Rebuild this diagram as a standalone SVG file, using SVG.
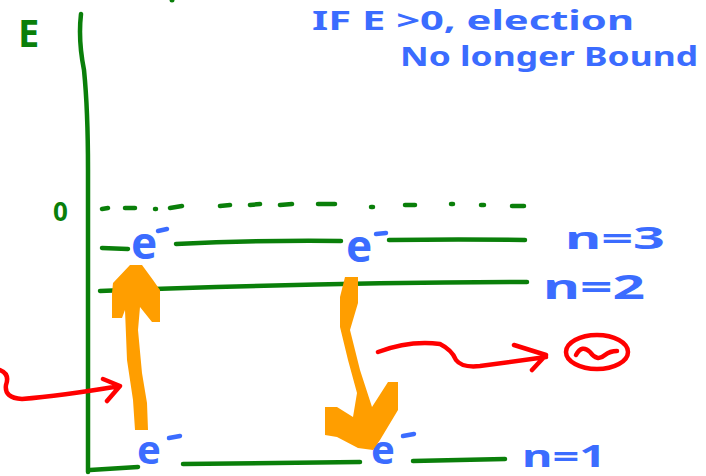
<svg xmlns="http://www.w3.org/2000/svg" width="706" height="476" viewBox="0 0 706 476">
<style>
.g{fill:none;stroke:#0a7f0a;stroke-width:4.5;stroke-linecap:round;stroke-linejoin:round}
.r{fill:none;stroke:#ff0000;stroke-width:4.5;stroke-linecap:round;stroke-linejoin:round}
.o{fill:#ff9e00;stroke:none}
.t{font-family:"Noto Sans",sans-serif;fill:#3b6cff;font-weight:bold}
.m{stroke:#3b6cff;stroke-width:4.5;stroke-linecap:round}
.tg{font-family:"Noto Sans",sans-serif;fill:#0a7f0a;font-weight:bold}
</style>
<rect width="706" height="476" fill="#ffffff"/>
<g id="axis">
<path class="g" d="M81,14 Q78,40 84,70 Q88,110 88,170 L88,472"/>
<circle cx="172" cy="0" r="2.5" fill="#0a7f0a"/>
<text class="tg" x="18" y="47" font-size="38">E</text>
<text class="tg" x="53" y="221" font-size="26">0</text>
</g>
<g id="level-zero">
<path class="g" d="M102,209 L108,208 M125,208 L135,208 M155,209 L156,209 M170,208 L182,206 M220,206 L230,205 M250,205 L260,204 M280,205 L292,204 M318,204 L335,204 M371,207 L373,207 M405,205 L415,205 M451,204 L453,204 M481,205 L484,205 M512,206 L524,206"/>
</g>
<g id="level-n3">
<path class="g" d="M102,248 L128,249 M176,244 Q260,240 341,241 M389,240 Q460,239 525,240"/>
<text class="t" x="565" y="249" font-size="30" textLength="100" lengthAdjust="spacingAndGlyphs">n=3</text>
</g>
<g id="level-n2">
<path class="g" d="M100,291 Q300,283 527,282"/>
<text class="t" x="543" y="299" font-size="34" textLength="102" lengthAdjust="spacingAndGlyphs">n=2</text>
</g>
<g id="level-n1">
<path class="g" d="M90,470 L138,467 M183,464 L360,462 M413,461 L505,459"/>
<text class="t" x="522" y="467" font-size="30" textLength="84" lengthAdjust="spacingAndGlyphs">n=1</text>
</g>
<g id="electrons">
<text class="t" x="131" y="259" font-size="44">e</text>
<path class="m" d="M158,231 L167,229"/>
<text class="t" x="346" y="262" font-size="44">e</text>
<path class="m" d="M376,234 L386,233"/>
<text class="t" x="137" y="464" font-size="40">e</text>
<path class="m" d="M169,438 L180,436"/>
<text class="t" x="371" y="464" font-size="40">e</text>
<path class="m" d="M403,436 L414,434"/>
</g>
<g id="connectors">
<path class="o" d="M130,265 L142,265 L153,280 L160,290 L160,322 L152,322 L140,307 L138,330 L142,373 L147,403 L148,430 L135,430 L133,400 L127,360 L125,310 L122,318 L112,318 L112,293 L113,283 Z"/>
<path class="o" d="M345,277 L358,277 L358,303 L350,330 L360,370 L372,407 L388,382 L398,382 L398,410 L380,440 L373,450 L358,448 L337,437 L325,435 L325,407 L337,407 L353,417 L357,393 L348,360 L340,327 L340,297 Z"/>
<path class="r" d="M0,370 Q10,374 6,385 Q4,398 22,399 Q60,396 120,386 M103,379 L120,386 L107,401"/>
<path class="r" d="M378,352 Q410,340 440,344 Q452,350 456,360 Q462,368 480,366 L546,357 M514,345 L546,355 L532,370"/>
<ellipse class="r" cx="597" cy="352" rx="31" ry="17"/>
<path class="r" d="M576,355 Q582,344 590,352 Q597,362 605,355 Q610,351 617,351"/>
</g>
<g id="note">
<text class="t" x="312" y="30" font-size="26" textLength="322" lengthAdjust="spacingAndGlyphs">IF E &gt;0, election</text>
<text class="t" x="400" y="66" font-size="27" textLength="298" lengthAdjust="spacingAndGlyphs">No longer Bound</text>
</g>
</svg>
